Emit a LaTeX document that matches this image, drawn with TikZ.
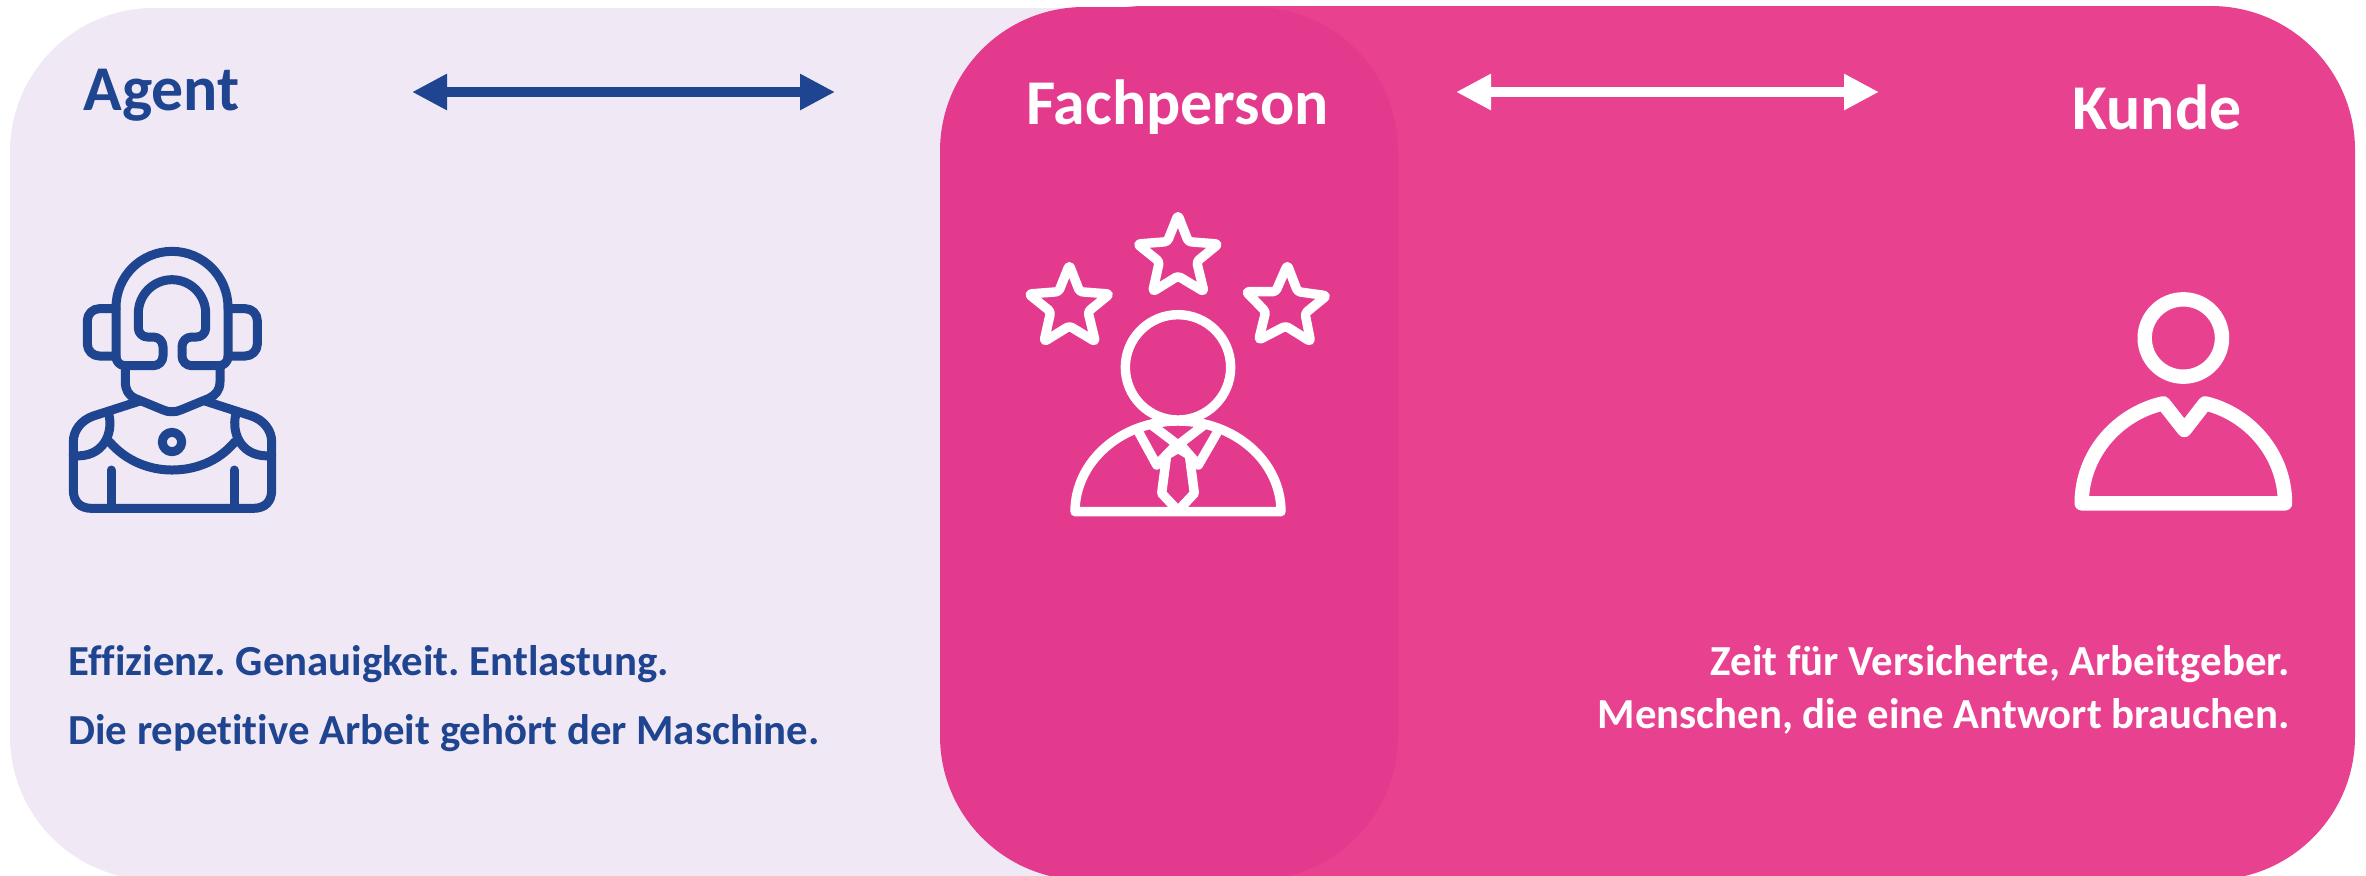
\documentclass[tikz,border=0pt]{standalone}
\usepackage{fontspec}
\setmainfont{Carlito}[Ligatures=CommonOff]
\frenchspacing
\usetikzlibrary{positioning, arrows.meta}

\definecolor{panellight}{HTML}{F0E8F4}
\definecolor{panelpink}{HTML}{E84190}
\definecolor{paneldeep}{HTML}{E33A8E}
\definecolor{agentblue}{HTML}{1F4490}

\begin{document}
\begin{tikzpicture}
    [x=0.5pt, y=-0.5pt,
    panel/.style={rounded corners=72pt},
    titletext/.style={font=\fontsize{31.9}{31.9}\selectfont\bfseries, anchor=base west, inner sep=0pt},
    infotext/.style={font=\fontsize{21.4}{21.4}\selectfont\bfseries, inner sep=0pt},
    twoway/.style={{Triangle[length=17.5pt, width=17pt]}-{Triangle[length=17.5pt, width=17pt]}, line width=5pt},
    iconline/.style={line width=#1, line cap=round, line join=round},
    iconunit/.style={x=0.16667pt, y=-0.16667pt},]

    \clip (0,0) rectangle (2366,875);

    %Panels
    \fill[panellight, panel] (10,8) rectangle (1300,880);
    \fill[panelpink, panel] (1000,6) rectangle (2355,880);
    \fill[paneldeep, panel] (940,7) rectangle (1398,880);

    %Labels
    \node(agentlabel)[titletext, text=agentblue] at (83,110) {Agent};
    \node(fachlabel)[titletext, text=white] at (1026,124) {Fachperson};
    \node(kundelabel)[titletext, text=white] at (2072,129) {Kunde};

    %Arrows
    \coordinate(agentleft) at (412,92);
    \coordinate[right=211.5pt of agentleft](agentright);
    \coordinate(kundeleft) at (1456,92);
    \coordinate[right=211.5pt of kundeleft](kunderight);
    \draw[twoway, agentblue](agentleft)--(agentright);
    \draw[twoway, white](kundeleft)--(kunderight);

    %Texts
    \node(effizienztext)[infotext, text=agentblue, anchor=base west] at (68,675) {Effizienz. Genauigkeit. Entlastung.};
    \node(maschinetext)[infotext, text=agentblue, below=34.5pt of effizienztext.base west, anchor=base west] {Die repetitive Arbeit gehört der Maschine.};
    \node(zeittext)[infotext, text=white, anchor=base east] at (2290,675) {Zeit für Versicherte, Arbeitgeber.};
    \node(menschentext)[infotext, text=white, below=26.5pt of zeittext.base east, anchor=base east] {Menschen, die eine Antwort brauchen.};

    %Agent icon
    \begin{scope}[shift={(0,200)}, iconunit]
        \begin{scope}[agentblue, iconline=4.5pt]
            \draw (348,322) arc[start angle=180, end angle=360, radius=168]
                -- (684,470) arc[start angle=0, end angle=90, radius=27]
                -- (575,497) arc[start angle=90, end angle=180, radius=29]
                -- (546,440) arc[start angle=180, end angle=270, radius=29]
                -- (590,411) arc[start angle=90, end angle=0, radius=27]
                -- (617,340) arc[start angle=360, end angle=180, radius=101]
                -- (415,384) arc[start angle=180, end angle=90, radius=27]
                -- (460,411) arc[start angle=270, end angle=360, radius=29]
                -- (489,468) arc[start angle=0, end angle=90, radius=29]
                -- (375,497) arc[start angle=90, end angle=180, radius=27] -- cycle;
            \draw[rounded corners=6pt] (348,326) -- (262,326) -- (262,468) -- (348,468);
            \draw[rounded corners=6pt] (684,326) -- (772,326) -- (772,468) -- (684,468);
            \draw (376,497) -- (376,545) .. controls (376,570) and (385,585) .. (405,595)
                -- (490,630) .. controls (505,637) and (527,637) .. (542,630)
                -- (627,595) .. controls (647,585) and (660,570) .. (660,545) -- (660,497);
            \draw (420,603) -- (280,648) .. controls (245,660) and (220,690) .. (220,725)
                -- (220,870) .. controls (220,905) and (240,925) .. (275,925)
                -- (760,925) .. controls (795,925) and (815,905) .. (815,870)
                -- (815,725) .. controls (815,690) and (790,660) .. (755,648) -- (615,603);
            \draw (327,645) .. controls (340,700) and (310,775) .. (220,767);
            \draw (707,645) .. controls (694,700) and (724,775) .. (815,767);
            \draw (328,725) .. controls (380,785) and (450,810) .. (516,810)
                .. controls (585,810) and (655,785) .. (705,725);
            \draw (516,726) circle[radius=29];
            \draw (333,810) -- (333,925);
            \draw (702,810) -- (702,925);
        \end{scope}
    \end{scope}

    %Fachperson icon
    \begin{scope}[shift={(1000,190)}, iconunit]
        \begin{scope}[white, iconline=4.7pt]
            \draw[rounded corners=1.5pt] (534,75) -- (565,155) -- (655,162) -- (590,215) -- (612,305) -- (534,258) -- (458,305) -- (478,215) -- (412,162) -- (502,155) -- cycle;
            \draw[rounded corners=1.5pt] (208,225) -- (239,305) -- (329,312) -- (264,365) -- (286,455) -- (208,408) -- (132,455) -- (152,365) -- (86,312) -- (176,305) -- cycle;
            \draw[rounded corners=1.5pt] (862,225) -- (893,305) -- (980,317) -- (915,370) -- (932,455) -- (857,408) -- (776,450) -- (797,365) -- (738,305) -- (827,305) -- cycle;
            \draw (534,532) circle[radius=158];
            \draw (225,965) arc[start angle=180, end angle=360, x radius=309, y radius=272] -- cycle;
            \draw (455,705) -- (534,765) -- (612,705);
            \draw (418,730) -- (470,825) -- (525,768);
            \draw (650,730) -- (595,825) -- (545,768);
            \draw (534,775) -- (500,795) -- (485,910) -- (534,962) -- (583,910) -- (568,795) -- cycle;
        \end{scope}
    \end{scope}

    %Kunde icon
    \begin{scope}[shift={(2040,270)}, iconunit]
        \begin{scope}[white, iconline=7.2pt]
            \draw (430,204) circle[radius=116];
            \draw (125,700) .. controls (125,550) and (235,430) .. (370,400)
                -- (433,480) -- (495,400) .. controls (625,430) and (735,550) .. (735,700) -- cycle;
        \end{scope}
    \end{scope}

\end{tikzpicture}
\end{document}
